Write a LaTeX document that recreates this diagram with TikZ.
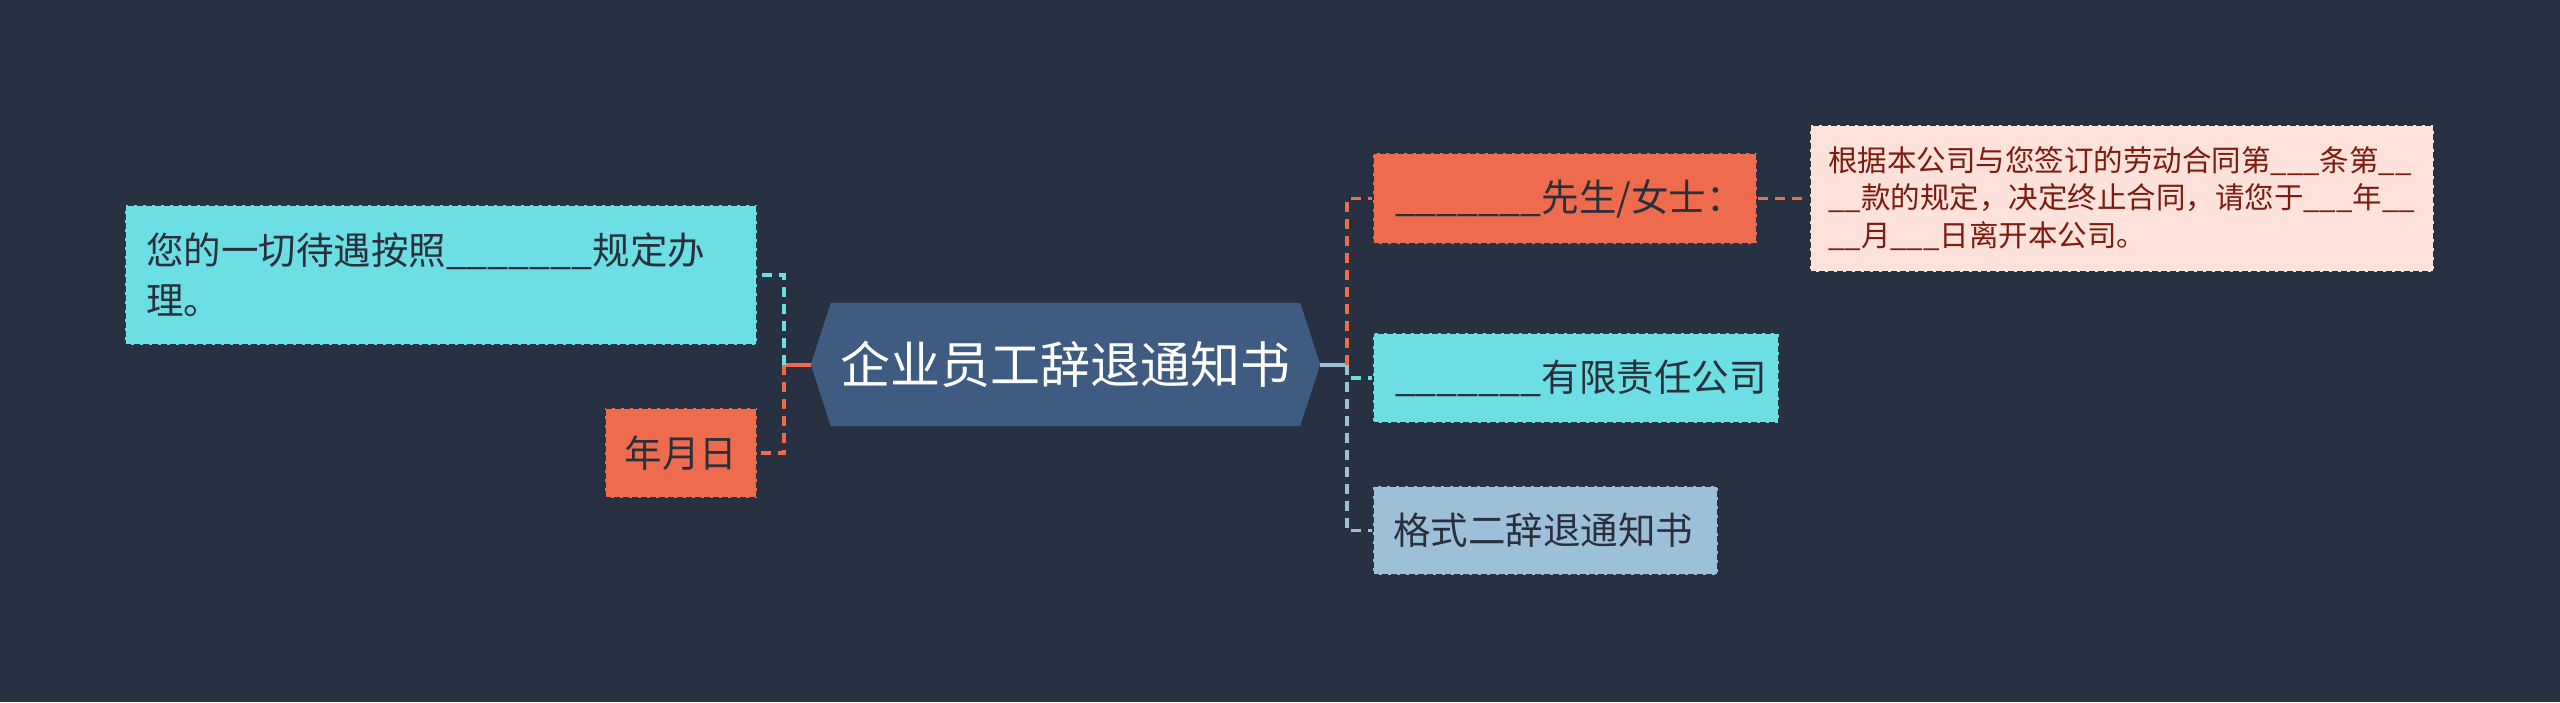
\documentclass[tikz,border=0pt]{standalone}
\usepackage{fontspec}
\newfontfamily\cjk{Noto Sans CJK SC}
\definecolor{bg}{HTML}{283142}
\definecolor{hexc}{HTML}{3E5B81}
\definecolor{cyanc}{HTML}{6BDFE3}
\definecolor{orangec}{HTML}{EF6B4D}
\definecolor{lblue}{HTML}{9BC0D8}
\definecolor{pinkc}{HTML}{FCE2DB}
\definecolor{txt}{HTML}{2A303B}
\definecolor{pinktxt}{HTML}{7D1B0F}
\begin{document}
\begin{tikzpicture}[x=1pt,y=-1pt,
  box/.style={rectangle, draw=bg, line width=2pt, dash pattern=on 6pt off 3pt, inner ysep=0pt, text=txt,
    font=\cjk\fontsize{37.5}{50}\selectfont},
  leftbox/.style={box, align=left},
  stub/.style={line width=4pt},
  link/.style={line width=3.5pt, dash pattern=on 10pt off 7pt},
  title/.style={font=\cjk\fontsize{50}{56}\selectfont, text=white, inner sep=0pt}]
\fill[bg] (0,0) rectangle (2560,702);
\useasboundingbox (0,0) rectangle (2560,702);

% central node
\node[title, minimum width=509pt, minimum height=123pt] (root) at (1065.5,364.5) {};
\fill[hexc] (root.west) -- ([xshift=20pt]root.north west) -- ([xshift=-20pt]root.north east)
  -- (root.east) -- ([xshift=-20pt]root.south east) -- ([xshift=20pt]root.south west) -- cycle;
\node[title] (roottext) at (root.center) {企业员工辞退通知书};

% left
\node[leftbox, fill=cyanc, minimum height=140pt, text width=590pt, inner xsep=21pt] (A) at (441,275)
  {您的一切待遇按照\_\_\_\_\_\_\_规定办\\理。};
\node[box, fill=orangec, minimum width=152pt, minimum height=90pt, inner xsep=0pt] (B) at (681,453) {年月日};

% right
\node[leftbox, fill=orangec, minimum height=91pt, text width=340pt, inner xsep=22pt] (D) at (1565,198.5)
  {\_\_\_\_\_\_\_先生/女士：};
\node[leftbox, fill=cyanc, minimum height=90pt, text width=362pt, inner xsep=22pt] (E) at (1576,378)
  {\_\_\_\_\_\_\_有限责任公司};
\node[leftbox, fill=lblue, minimum height=89pt, text width=305pt, inner xsep=20pt] (F) at (1545.5,530.5)
  {格式二辞退通知书};
\node[leftbox, fill=pinkc, text=pinktxt, font=\cjk\fontsize{29.5}{37.5}\selectfont,
  minimum height=147pt, text width=588pt, inner xsep=18pt] (G) at (2122,198.5)
  {根据本公司与您签订的劳动合同第\_\_\_条第\_\_\\\_\_款的规定，决定终止合同，请您于\_\_\_年\_\_\\\_\_月\_\_\_日离开本公司。};

% connectors
\coordinate (jl) at (784,364.5);
\coordinate (jr) at (1347,364.5);
\draw[stub, draw=orangec] (root.west) -- (jl);
\draw[link, draw=cyanc] (jl) |- (A.east);
\draw[link, draw=orangec] (jl) |- (B.east);
\draw[stub, draw=lblue] (root.east) -- (jr);
\draw[link, draw=orangec] (jr) |- (D.west);
\draw[link, draw=cyanc] (jr) |- (E.west);
\draw[link, draw=lblue] (jr) |- (F.west);
\draw[link, draw=orangec] (D.east) -- (G.west);
\end{tikzpicture}
\end{document}
